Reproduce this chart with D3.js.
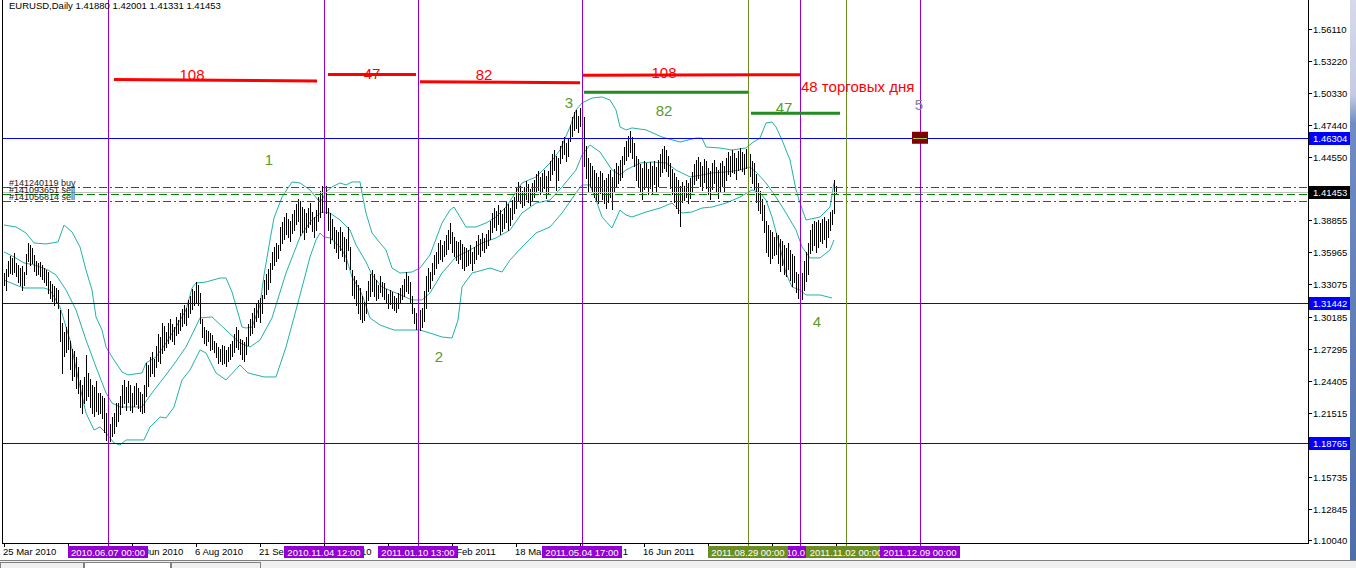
<!DOCTYPE html>
<html><head><meta charset="utf-8">
<script src="https://cdn.jsdelivr.net/npm/d3@7"></script>
<style>
html,body{margin:0;padding:0;background:#fff;overflow:hidden}
svg{display:block;font-family:"Liberation Sans",Arial,sans-serif}
</style></head><body>
<svg id="c" width="1356" height="568"></svg>
<script>
// ---- daily bar highs / lows (EURUSD, 25 Mar 2010 .. 28 Oct 2011) ----
const highs=[
1.3410,1.3450,1.3520,1.3560,1.3550,1.3590,1.3500,1.3480,1.3460,1.3470,
1.3420,1.3580,1.3680,1.3660,1.3640,1.3570,1.3520,1.3500,1.3510,1.3480,
1.3460,1.3440,1.3420,1.3340,1.3310,1.3290,1.3280,1.3260,1.3080,1.2960,
1.2880,1.2920,1.3090,1.2800,1.2730,1.2710,1.2650,1.2560,1.2450,1.2400,
1.2470,1.2670,1.2510,1.2460,1.2400,1.2380,1.2440,1.2330,1.2330,1.2300,
1.2280,1.2150,1.2100,1.2050,1.2110,1.2150,1.2240,1.2240,1.2300,1.2400,
1.2450,1.2380,1.2440,1.2400,1.2330,1.2390,1.2420,1.2370,1.2340,1.2320,
1.2400,1.2600,1.2580,1.2650,1.2700,1.2640,1.2750,1.2860,1.2830,1.2960,
1.2930,1.2880,1.2960,1.3000,1.2950,1.2920,1.3010,1.2990,1.3050,1.3090,
1.3120,1.3100,1.3170,1.3200,1.3270,1.3250,1.3333,1.3300,1.3230,1.3000,
1.2920,1.2900,1.2890,1.2870,1.2850,1.2800,1.2780,1.2740,1.2730,1.2760,
1.2750,1.2720,1.2740,1.2770,1.2800,1.2860,1.2920,1.2900,1.2820,1.2810,
1.2790,1.2830,1.2950,1.3000,1.3050,1.3100,1.3140,1.3170,1.3190,1.3210,
1.3350,1.3400,1.3450,1.3500,1.3600,1.3650,1.3680,1.3660,1.3830,1.3870,
1.3920,1.3950,1.3900,1.3880,1.3940,1.3980,1.4030,1.4080,1.4060,1.4010,
1.3990,1.3950,1.4000,1.4040,1.3960,1.3920,1.3980,1.4100,1.4150,1.4200,
1.4282,1.4200,1.4000,1.3950,1.3900,1.3830,1.3800,1.3780,1.3830,1.3780,
1.3740,1.3720,1.3830,1.3650,1.3440,1.3380,1.3350,1.3300,1.3280,1.3200,
1.3150,1.3250,1.3340,1.3400,1.3440,1.3400,1.3350,1.3300,1.3380,1.3330,
1.3320,1.3270,1.3220,1.3260,1.3240,1.3200,1.3190,1.3230,1.3280,1.3300,
1.3360,1.3420,1.3380,1.3330,1.3200,1.3100,1.3050,1.2990,1.3080,1.3100,
1.3250,1.3380,1.3460,1.3420,1.3500,1.3570,1.3600,1.3680,1.3710,1.3660,
1.3700,1.3750,1.3800,1.3860,1.3780,1.3740,1.3700,1.3690,1.3710,1.3670,
1.3650,1.3640,1.3620,1.3660,1.3600,1.3650,1.3700,1.3750,1.3720,1.3770,
1.3730,1.3760,1.3800,1.3880,1.3950,1.4000,1.3970,1.4020,1.3980,1.3940,
1.4000,1.4060,1.4030,1.4000,1.4070,1.4100,1.4180,1.4230,1.4200,1.4150,
1.4190,1.4240,1.4210,1.4170,1.4220,1.4250,1.4300,1.4330,1.4280,1.4310,
1.4340,1.4290,1.4330,1.4420,1.4480,1.4520,1.4470,1.4450,1.4560,1.4600,
1.4640,1.4580,1.4620,1.4750,1.4820,1.4860,1.4880,1.4830,1.4900,1.4940,
1.4820,1.4560,1.4450,1.4400,1.4380,1.4340,1.4310,1.4280,1.4330,1.4310,
1.4250,1.4270,1.4300,1.4340,1.4280,1.4350,1.4400,1.4380,1.4430,1.4470,
1.4550,1.4600,1.4650,1.4690,1.4640,1.4580,1.4470,1.4440,1.4390,1.4360,
1.4420,1.4400,1.4350,1.4410,1.4380,1.4420,1.4370,1.4430,1.4480,1.4530,
1.4560,1.4520,1.4470,1.4400,1.4350,1.4310,1.4280,1.4250,1.4200,1.4230,
1.4200,1.4250,1.4220,1.4270,1.4320,1.4390,1.4430,1.4460,1.4410,1.4380,
1.4440,1.4420,1.4360,1.4330,1.4400,1.4430,1.4370,1.4340,1.4400,1.4420,
1.4380,1.4450,1.4500,1.4470,1.4520,1.4490,1.4450,1.4510,1.4540,1.4500,
1.4480,1.4530,1.4550,1.4480,1.4420,1.4400,1.4300,1.4220,1.4150,1.4080,
1.4020,1.3880,1.3840,1.3800,1.3780,1.3740,1.3770,1.3750,1.3720,1.3700,
1.3660,1.3640,1.3680,1.3620,1.3580,1.3560,1.3420,1.3400,1.3380,1.3410,
1.3520,1.3600,1.3680,1.3800,1.3850,1.3880,1.3870,1.3890,1.3860,1.3900,
1.3920,1.3880,1.3900,1.3960,1.3980,1.4247,1.4200];
const lows=[
1.3300,1.3260,1.3380,1.3410,1.3400,1.3420,1.3380,1.3330,1.3300,1.3260,
1.3300,1.3400,1.3520,1.3480,1.3500,1.3430,1.3390,1.3400,1.3380,1.3360,
1.3330,1.3300,1.3230,1.3190,1.3160,1.3120,1.3140,1.3100,1.2800,1.2510,
1.2660,1.2700,1.2730,1.2550,1.2450,1.2480,1.2370,1.2330,1.2200,1.2150,
1.2240,1.2270,1.2300,1.2200,1.2150,1.2120,1.2170,1.2140,1.2150,1.2100,
1.1980,1.1910,1.1877,1.1900,1.1940,1.1970,1.2030,1.2080,1.2140,1.2200,
1.2240,1.2180,1.2250,1.2180,1.2160,1.2210,1.2230,1.2190,1.2170,1.2150,
1.2160,1.2300,1.2390,1.2480,1.2510,1.2480,1.2560,1.2620,1.2600,1.2690,
1.2720,1.2740,1.2780,1.2820,1.2800,1.2770,1.2850,1.2870,1.2900,1.2930,
1.2960,1.2940,1.3010,1.3050,1.3090,1.3120,1.3140,1.3120,1.2960,1.2830,
1.2780,1.2760,1.2800,1.2720,1.2730,1.2700,1.2650,1.2600,1.2620,1.2590,
1.2600,1.2570,1.2620,1.2640,1.2660,1.2700,1.2740,1.2730,1.2680,1.2640,
1.2620,1.2680,1.2760,1.2850,1.2870,1.2920,1.2980,1.3010,1.2970,1.3050,
1.3190,1.3220,1.3270,1.3330,1.3450,1.3480,1.3520,1.3550,1.3620,1.3680,
1.3720,1.3760,1.3740,1.3700,1.3770,1.3800,1.3850,1.3880,1.3750,1.3780,
1.3720,1.3780,1.3830,1.3850,1.3790,1.3740,1.3800,1.3880,1.3920,1.3960,
1.4010,1.3950,1.3800,1.3680,1.3720,1.3640,1.3600,1.3550,1.3620,1.3560,
1.3520,1.3450,1.3620,1.3450,1.3210,1.3190,1.3120,1.3050,1.3000,1.2969,
1.2990,1.3050,1.3170,1.3200,1.3250,1.3200,1.3170,1.3190,1.3240,1.3200,
1.3180,1.3150,1.3100,1.3130,1.3100,1.3080,1.3060,1.3100,1.3140,1.3180,
1.3200,1.3250,1.3230,1.3150,1.3050,1.2960,1.2910,1.2867,1.2900,1.2920,
1.2980,1.3100,1.3250,1.3280,1.3350,1.3400,1.3460,1.3500,1.3540,1.3520,
1.3560,1.3580,1.3630,1.3680,1.3600,1.3560,1.3530,1.3500,1.3540,1.3460,
1.3440,1.3470,1.3480,1.3500,1.3440,1.3500,1.3540,1.3580,1.3560,1.3620,
1.3600,1.3640,1.3660,1.3720,1.3780,1.3830,1.3800,1.3850,1.3760,1.3790,
1.3820,1.3870,1.3800,1.3840,1.3900,1.3950,1.4000,1.4060,1.4040,1.4010,
1.4020,1.4080,1.4050,1.4020,1.4070,1.4100,1.4140,1.4160,1.4120,1.4150,
1.4180,1.4090,1.4120,1.4250,1.4300,1.4340,1.4160,1.4250,1.4400,1.4450,
1.4480,1.4420,1.4470,1.4600,1.4650,1.4700,1.4720,1.4680,1.4740,1.4780,
1.4380,1.4270,1.4150,1.4190,1.4150,1.4100,1.4060,1.4040,1.4130,1.4080,
1.4040,1.4000,1.4050,1.4100,1.3990,1.4140,1.4190,1.4220,1.4250,1.4280,
1.4390,1.4430,1.4470,1.4500,1.4450,1.4380,1.4250,1.4200,1.4140,1.4080,
1.4170,1.4200,1.4120,1.4180,1.4130,1.4210,1.4150,1.4200,1.4290,1.4320,
1.4360,1.4330,1.4290,1.4180,1.4120,1.4050,1.4000,1.3950,1.3837,1.4050,
1.4070,1.4100,1.4040,1.4090,1.4150,1.4210,1.4250,1.4270,1.4200,1.4160,
1.4230,1.4180,1.4120,1.4080,1.4170,1.4220,1.4140,1.4090,1.4150,1.4200,
1.4140,1.4250,1.4300,1.4290,1.4320,1.4310,1.4260,1.4340,1.4350,1.4330,
1.4300,1.4360,1.4380,1.4290,1.4220,1.4170,1.4050,1.3980,1.3950,1.3890,
1.3780,1.3600,1.3560,1.3500,1.3550,1.3570,1.3580,1.3500,1.3430,1.3480,
1.3400,1.3380,1.3450,1.3350,1.3290,1.3330,1.3240,1.3190,1.3145,1.3180,
1.3260,1.3340,1.3400,1.3590,1.3620,1.3660,1.3600,1.3650,1.3700,1.3680,
1.3720,1.3650,1.3740,1.3800,1.3850,1.3950,1.4133];

// ---- Bollinger bands, read as [bar index, price] ----
const bbUpper=[[0,1.3844],[6,1.3826],[11,1.3772],[15,1.3682],[21,1.3673],[27,1.3691],[30,1.3844],[34,1.3781],[38,1.3646],[41,1.3438],[44,1.3258],[46,1.3015],[49,1.2897],[51,1.2744],[54,1.2654],[56,1.2600],[59,1.2519],[62,1.2492],[69,1.2510],[71,1.2600],[76,1.2654],[81,1.2780],[86,1.2924],[91,1.3078],[94,1.3276],[96,1.3321],[101,1.3330],[108,1.3366],[111,1.3366],[114,1.3240],[117,1.3051],[119,1.2924],[121,1.2915],[124,1.2924],[128,1.3123],[130,1.3393],[133,1.3709],[135,1.3907],[139,1.4096],[144,1.4232],[148,1.4223],[153,1.4160],[157,1.4069],[159,1.4069],[161,1.4142],[164,1.4187],[168,1.4223],[171,1.4205],[174,1.4232],[178,1.4232],[179,1.4133],[181,1.3952],[184,1.3772],[188,1.3682],[191,1.3619],[194,1.3456],[198,1.3411],[204,1.3420],[208,1.3456],[213,1.3574],[219,1.3862],[223,1.3979],[225,1.4006],[228,1.3916],[231,1.3826],[236,1.3826],[241,1.3862],[246,1.3916],[251,1.4006],[256,1.4142],[259,1.4223],[266,1.4277],[273,1.4403],[278,1.4520],[283,1.4728],[286,1.4881],[289,1.4944],[294,1.4989],[299,1.4998],[303,1.4971],[306,1.4881],[308,1.4728],[311,1.4701],[314,1.4719],[321,1.4701],[329,1.4637],[338,1.4592],[346,1.4628],[349,1.4628],[351,1.4547],[358,1.4538],[364,1.4520],[371,1.4538],[374,1.4583],[378,1.4628],[381,1.4764],[384,1.4773],[386,1.4728],[389,1.4610],[393,1.4430],[396,1.4160],[398,1.4042],[401,1.3889],[408,1.3916],[413,1.4006],[415,1.4223]];
const bbMiddle=[[0,1.3601],[5,1.3556],[10,1.3502],[15,1.3484],[18,1.3466],[22,1.3438],[26,1.3393],[31,1.3258],[36,1.3078],[41,1.2807],[46,1.2564],[51,1.2330],[54,1.2239],[58,1.2203],[64,1.2203],[69,1.2203],[74,1.2330],[79,1.2447],[84,1.2564],[91,1.2744],[98,1.3006],[104,1.3015],[111,1.2897],[118,1.2780],[123,1.2744],[128,1.2807],[134,1.3006],[141,1.3411],[148,1.3736],[153,1.3871],[157,1.3934],[159,1.3961],[163,1.3952],[168,1.3889],[173,1.3799],[176,1.3664],[181,1.3511],[184,1.3393],[189,1.3285],[196,1.3231],[204,1.3168],[209,1.3168],[213,1.3231],[219,1.3411],[226,1.3556],[233,1.3619],[239,1.3682],[246,1.3727],[253,1.3799],[259,1.3952],[266,1.4042],[273,1.4069],[279,1.4187],[286,1.4340],[289,1.4475],[293,1.4565],[298,1.4502],[304,1.4340],[308,1.4295],[311,1.4340],[318,1.4403],[324,1.4412],[331,1.4403],[336,1.4340],[343,1.4277],[349,1.4295],[354,1.4313],[361,1.4322],[368,1.4340],[373,1.4367],[376,1.4322],[381,1.4223],[386,1.4096],[391,1.3952],[396,1.3799],[399,1.3646],[403,1.3547],[408,1.3547],[413,1.3619],[415,1.3709]];
const bbLower=[[0,1.3348],[6,1.3303],[10,1.3276],[20,1.3276],[23,1.3258],[28,1.3105],[33,1.2807],[38,1.2384],[41,1.2149],[45,1.1996],[48,1.2023],[51,1.1969],[55,1.1879],[58,1.1861],[61,1.1906],[70,1.1906],[73,1.2023],[78,1.2113],[81,1.2104],[85,1.2203],[89,1.2447],[93,1.2537],[98,1.2717],[101,1.2690],[106,1.2510],[111,1.2447],[118,1.2582],[122,1.2510],[130,1.2474],[136,1.2474],[141,1.2744],[146,1.3078],[150,1.3348],[153,1.3556],[156,1.3709],[158,1.3772],[160,1.3736],[163,1.3727],[168,1.3646],[171,1.3556],[174,1.3375],[178,1.3258],[180,1.3168],[183,1.3006],[188,1.2942],[195,1.2897],[203,1.2897],[208,1.2897],[213,1.2870],[219,1.2834],[224,1.2825],[227,1.2987],[229,1.3285],[234,1.3411],[243,1.3456],[249,1.3420],[253,1.3528],[259,1.3646],[266,1.3772],[273,1.3826],[279,1.3952],[286,1.4133],[289,1.4205],[293,1.4205],[296,1.4069],[299,1.3916],[304,1.3817],[308,1.3979],[311,1.3934],[314,1.3916],[321,1.3961],[328,1.3997],[334,1.4042],[339,1.3952],[344,1.3961],[349,1.3997],[354,1.4006],[361,1.4042],[368,1.4096],[374,1.4160],[378,1.4133],[381,1.4069],[384,1.3916],[388,1.3646],[391,1.3411],[394,1.3285],[398,1.3258],[401,1.3213],[408,1.3213],[414,1.3186]];

// ---- axes ----
const priceTicks=[1.56110,1.53220,1.50330,1.47440,1.44550,1.41700,1.38855,1.35965,1.33075,1.30185,1.27295,1.24405,1.21515,1.18625,1.15735,1.12845,1.10040];
const dateTickIdx=[0,32,64,96,128,160,192,224,256,288,320,352,384,416];
const dateTickLabels=["25 Mar 2010","10 May 2010","23 Jun 2010","6 Aug 2010","21 Sep 2010","4 Nov 2010","20 Dec 2010","2 Feb 2011","18 Mar 2011","3 May 2011","16 Jun 2011","1 Aug 2011","14 Sep 2011","28 Oct 2011"];

// ---- objects ----
const hlinePrices=[1.46304,1.31442,1.18765];
const orderPrices=[1.41900,1.41240,1.40580];
const orderLabels=["#141240119 buy","#141093651 sell","#141056814 sell"];
const bidPrice=1.41453;
const titleText="EURUSD,Daily  1.41880 1.42001 1.41331 1.41453";
const vlineIdx=[52,160,207,289,398,372,421,458];
const vlineLabels=["2010.06.07 00:00","2010.11.04 12:00","2011.01.10 13:00","2011.05.04 17:00","2011.10.04 00:00","2011.08.29 00:00","2011.11.02 00:00","2011.12.09 00:00"];
const vlineKind=["p","p","p","p","p","o","o","p"];
const redSegs=[[55,1.5156,156.5,1.5142],[162,1.5201,206,1.5201],[208,1.5136,288,1.5127],[289.5,1.5195,398,1.5199]];
const greenSegs=[[290,1.5040,372,1.5040],[373.5,1.4851,418,1.4851]];
const annText=["108","47","82","108","48 торговых дня","82","47","1","2","3","4","5"];
const annIdx=[94,184,240,330,398.5,330,390,132.5,217.5,282.5,406.5,457.5];
const annPrice=[1.5151,1.5160,1.5151,1.5169,1.5043,1.4827,1.4854,1.4385,1.2609,1.4899,1.2925,1.4881];
const annKind=["r","r","r","r","rl","g","g","g","g","g","g","n"];
const markerIdx=458, markerPrice=1.46304;

// ---- drawing ----
const FS=9.5;
const svg=d3.select("#c");
const L=3,R=1308,T=0,B=543;
const x=d3.scaleLinear().domain([0,416]).range([4,836]);
const y=d3.scaleLinear().domain([1.10040,1.56110]).range([540,29]);
const px=v=>Math.round(x(v))+0.5, py=v=>Math.round(y(v))+0.5;

svg.append("rect").attr("width",1356).attr("height",568).attr("fill","#fff");

// bands
const line=d3.line().x(d=>x(d[0])).y(d=>y(d[1]));
[bbUpper,bbMiddle,bbLower].forEach(b=>svg.append("path").attr("d",line(b)).attr("fill","none").attr("stroke","#20B2AA").attr("stroke-width",1));

// bars
svg.append("g").attr("shape-rendering","crispEdges").selectAll("line").data(highs).join("line")
 .attr("x1",(d,i)=>px(i)).attr("x2",(d,i)=>px(i))
 .attr("y1",d=>Math.round(y(d))).attr("y2",(d,i)=>Math.round(y(lows[i]))+1)
 .attr("stroke","#000").attr("stroke-width",1);

// bid line
svg.append("line").attr("x1",L).attr("x2",R).attr("y1",py(bidPrice)).attr("y2",py(bidPrice)).attr("stroke","#C0C0C0").attr("shape-rendering","crispEdges");

// order lines
const dashes=["8,3,2,3","8,4","8,3,2,3"];
orderPrices.forEach((p,k)=>svg.append("line").attr("x1",L).attr("x2",R).attr("y1",py(p)).attr("y2",py(p))
  .attr("stroke","#008000").attr("stroke-dasharray",dashes[k]).attr("shape-rendering","crispEdges"));
orderLabels.forEach((t,k)=>svg.append("text").attr("x",9).attr("y",py(orderPrices[k])-1.5).attr("font-size",9).attr("fill","#1a1a1a").text(t));

// horizontal blue lines
hlinePrices.forEach(p=>svg.append("line").attr("x1",L).attr("x2",R).attr("y1",py(p)).attr("y2",py(p)).attr("stroke","#0000FF").attr("shape-rendering","crispEdges"));

// vertical lines
vlineIdx.forEach((v,k)=>svg.append("line").attr("x1",px(v)).attr("x2",px(v)).attr("y1",T).attr("y2",B+4)
  .attr("stroke",vlineKind[k]==="p"?"#9400D3":"#6B8E23").attr("shape-rendering","crispEdges"));

// red / green trend segments
redSegs.forEach(s=>svg.append("line").attr("x1",x(s[0])).attr("x2",x(s[2])).attr("y1",y(s[1])).attr("y2",y(s[3])).attr("stroke","#FF0000").attr("stroke-width",3));
greenSegs.forEach(s=>svg.append("line").attr("x1",x(s[0])).attr("x2",x(s[2])).attr("y1",y(s[1])).attr("y2",y(s[3])).attr("stroke","#228B22").attr("stroke-width",3));

// annotations
annText.forEach((t,k)=>{
  const kind=annKind[k];
  svg.append("text").attr("x",x(annIdx[k])).attr("y",y(annPrice[k]))
   .attr("text-anchor",kind==="rl"?"start":"middle").attr("font-size",15)
   .attr("fill",kind[0]==="r"?"#FF0000":(kind==="g"?"#5A9A2A":"#7F8296")).text(t);
});

// marker
svg.append("rect").attr("x",x(markerIdx)-8).attr("y",y(markerPrice)-6).attr("width",16).attr("height",12).attr("fill","#800000");
svg.append("line").attr("x1",x(markerIdx)-7).attr("x2",x(markerIdx)+7).attr("y1",py(markerPrice)).attr("y2",py(markerPrice)).attr("stroke","#9ACD32").attr("shape-rendering","crispEdges");

// frame
svg.append("line").attr("x1",2.5).attr("x2",2.5).attr("y1",0).attr("y2",B).attr("stroke","#000");
svg.append("line").attr("x1",R+0.5).attr("x2",R+0.5).attr("y1",0).attr("y2",B).attr("stroke","#000");
svg.append("line").attr("x1",2).attr("x2",R+1).attr("y1",B+0.5).attr("y2",B+0.5).attr("stroke","#000");

// price axis (labels hidden behind price boxes are not drawn, as in the reference)
const boxPrices=hlinePrices.concat([bidPrice]);
priceTicks.forEach(p=>{
  svg.append("line").attr("x1",R).attr("x2",R+4).attr("y1",py(p)).attr("y2",py(p)).attr("stroke","#000").attr("shape-rendering","crispEdges");
  const hidden=boxPrices.some(b=>Math.abs(y(b)-y(p))<9);
  if(!hidden) svg.append("text").attr("x",1313).attr("y",Math.round(y(p))+3.5).attr("font-size",FS).attr("fill","#000").text(p.toFixed(5));
});
function priceBox(p,fill){
  const cy=Math.round(y(p));
  svg.append("rect").attr("x",R+1).attr("y",cy-6).attr("width",42).attr("height",13).attr("fill",fill);
  svg.append("text").attr("x",1313).attr("y",cy+3.5).attr("font-size",FS).attr("fill","#fff").text(p.toFixed(5));
}
hlinePrices.forEach(p=>priceBox(p,"#0000FF"));
priceBox(bidPrice,"#000");

// date axis ticks + labels
const dateTexts=[];
dateTickIdx.forEach((d,k)=>{
  svg.append("line").attr("x1",px(d)).attr("x2",px(d)).attr("y1",B).attr("y2",B+4).attr("stroke","#000").attr("shape-rendering","crispEdges");
  dateTexts.push(svg.append("text").attr("x",x(d)-1).attr("y",555).attr("font-size",FS).attr("fill","#000").text(dateTickLabels[k]));
});
// vertical-line time labels
const boxes=[], vTexts=[];
vlineIdx.forEach((v,k)=>{
  const cx=Math.round(x(v));
  boxes.push([cx-40,cx+40]);
  svg.append("rect").attr("x",cx-40).attr("y",546).attr("width",80).attr("height",12).attr("fill",vlineKind[k]==="p"?"#9400D3":"#6B8E23");
  vTexts.push(svg.append("text").attr("x",cx).attr("y",555.5).attr("text-anchor","middle").attr("font-size",FS).attr("fill","#fff").text(vlineLabels[k]));
});
// keep only the part of a label that is not covered by a box drawn above it
function trimCovered(sel,cover){
  const node=sel.node(), s=node.textContent, n=s.length;
  const vis=[];
  for(let i=0;i<n;i++){
    const e=node.getExtentOfChar(i), c=e.x+e.width/2;
    vis.push(!cover.some(b=>c>b[0]+1.5&&c<b[1]-1.5));
  }
  let best=[0,-1],cur=-1;
  for(let i=0;i<=n;i++){
    if(i<n&&vis[i]){ if(cur<0) cur=i; }
    else if(cur>=0){ if(i-cur>best[1]-best[0]+1) best=[cur,i-1]; cur=-1; }
  }
  if(best[1]<best[0]){ sel.remove(); return; }
  if(best[0]===0&&best[1]===n-1) return;
  const x0=node.getExtentOfChar(best[0]).x;
  const txt=s.slice(best[0],best[1]+1).trim();
  if(!txt){ sel.remove(); return; }
  sel.attr("text-anchor","start").attr("x",x0).text(txt);
}
dateTexts.forEach(t=>trimCovered(t,boxes));
vTexts.forEach((t,k)=>trimCovered(t,boxes.slice(k+1)));

// title
svg.append("text").attr("x",9).attr("y",8.5).attr("font-size",FS).attr("fill","#000").text(titleText);

// bottom tab strip
svg.append("rect").attr("x",0).attr("y",560).attr("width",1356).attr("height",8).attr("fill","#F0F0F0");
svg.append("line").attr("x1",0).attr("x2",1356).attr("y1",560.5).attr("y2",560.5).attr("stroke","#808080");
[[0,83,"#F0F0F0"],[84,86,"#FFFFFF"],[171,89,"#F0F0F0"]].forEach(t=>svg.append("rect").attr("x",t[0]+0.5).attr("y",562.5).attr("width",t[1]).attr("height",8).attr("fill",t[2]).attr("stroke","#808080"));

// right window edge
const g=svg.append("defs").append("linearGradient").attr("id","edge").attr("x1",0).attr("x2",0).attr("y1",0).attr("y2",1);
[[0,"#D6DAEA"],[0.17,"#C4CBE3"],[0.22,"#6F8DC2"],[1,"#4E6EA8"]].forEach(s=>g.append("stop").attr("offset",s[0]).attr("stop-color",s[1]));
svg.append("rect").attr("x",1350).attr("y",0).attr("width",6).attr("height",560).attr("fill","url(#edge)");
</script>
</body></html>
